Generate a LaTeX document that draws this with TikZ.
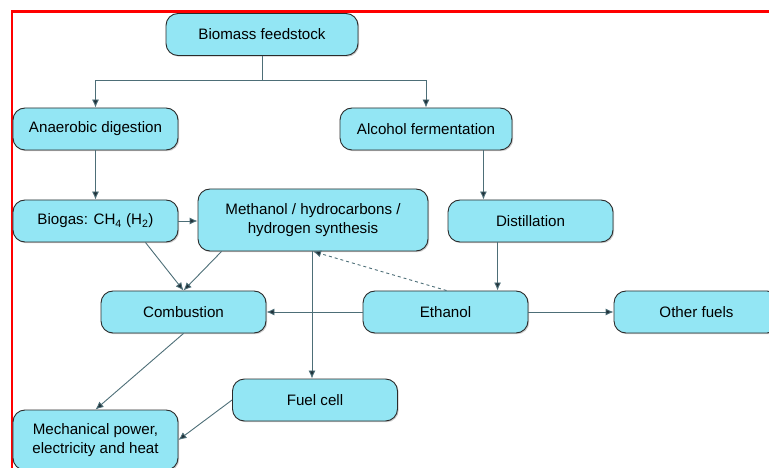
\documentclass[tikz,border=0pt]{standalone}
\usepackage{fontspec}
\setmainfont{Liberation Sans}
\usetikzlibrary{arrows.meta, shadows, calc}
\definecolor{c1}{HTML}{93E6F4}
\definecolor{d1}{HTML}{2B2B2B}
\definecolor{l1}{HTML}{4D6E77}
\definecolor{t1}{HTML}{1F3038}
\definecolor{r1}{HTML}{FF0000}

\begin{document}
\begin{tikzpicture}[x=1bp, y=-1bp,
	box/.style={draw=d1, fill=c1, line width=0.9bp, rounded corners=12bp, minimum width=165bp, minimum height=42bp, inner sep=2bp, align=center, font=\fontsize{15.2}{19}\selectfont, drop shadow={shadow xshift=1.2bp, shadow yshift=-1.2bp, fill=black!40, opacity=0.5}},
	arr/.style={draw=l1, line width=0.9bp, -{Latex[length=8bp, width=7bp, fill=t1]}}]
	\useasboundingbox (0,0) rectangle (769,468);
	\draw[r1, line width=2.5bp] (12,470) -- (12,11.5) -- (771,11.5);
	
	\node[box, minimum width=192bp] (biomass) at (262,34.5) {Biomass feedstock};
	\node[box] (anaerobic) at (95.5,129) {Anaerobic digestion};
	\node[box, minimum width=172bp] (alcohol) at (426,129) {Alcohol fermentation};
	\node[box] (biogas) at (95.5,221) {Biogas: CH\textsubscript{4} (H\textsubscript{2})};
	\node[box, minimum width=230bp, minimum height=62bp] (methanol) at (313,220) {Methanol / hydrocarbons /\\hydrogen synthesis};
	\node[box] (distill) at (530.5,221) {Distillation};
	\node[box] (combust) at (183.5,312) {Combustion};
	\node[box] (ethanol) at (445.5,312) {Ethanol};
	\node[box] (other) at (696.5,312) {Other fuels};
	\node[box] (fuelcell) at (315,400) {Fuel cell};
	\node[box, minimum height=60bp] (mech) at (95.5,440) {Mechanical power,\\electricity and heat};
	
	\draw[arr] (biomass.south) -- ++(0,25) -| (anaerobic.north);
	\draw[arr] (biomass.south) -- ++(0,25) -| (alcohol.north);
	\draw[arr] (anaerobic.south) -- (biogas.north);
	\draw[arr] ([xshift=-29bp]alcohol.south east) -- ([xshift=-29bp]alcohol.south east |- distill.north);
	\draw[arr] ([xshift=50bp]distill.south west) -- ([xshift=50bp]distill.south west |- ethanol.north);
	\draw[arr] (biogas.east) -- (biogas.east -| methanol.west);
	\draw[arr] ([xshift=-33bp]biogas.south east) -- (combust.north);
	\draw[arr] ([xshift=24bp]methanol.south west) -- (combust.north);
	\draw[arr] (ethanol.west) -- (combust.east);
	\draw[arr, dashed] ([xshift=84bp]ethanol.north west) -- (methanol.south);
	\draw[arr] ([xshift=-1bp]methanol.south) -- ([xshift=-1bp]methanol.south |- fuelcell.north);
	\draw[arr] (ethanol.east) -- (other.west);
	\draw[arr] (combust.south) -- (mech.north);
	\draw[arr] (fuelcell.west) -- (mech.east);
\end{tikzpicture}
\end{document}
